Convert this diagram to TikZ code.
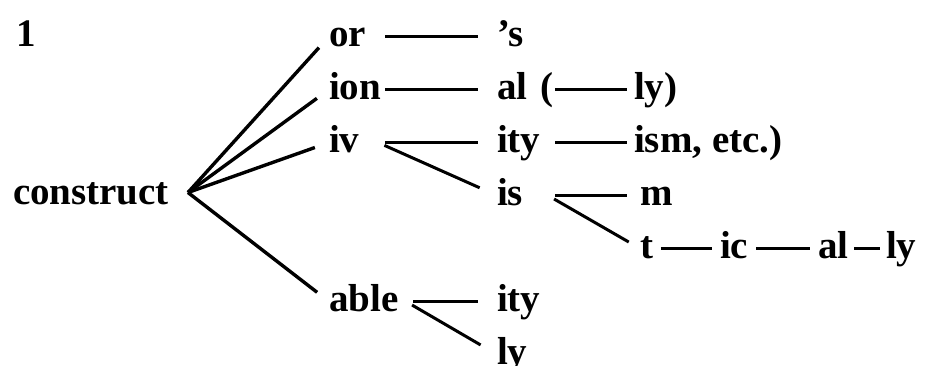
\documentclass[tikz,border=0pt]{standalone}
\usepackage{fontspec}
\setmainfont{Liberation Serif}
\tikzset{
  word/.style={anchor=base west, inner sep=0pt, outer sep=0pt, text height=13.5pt, text depth=4pt},
  suffix/.style={word, text width=#1, align=left},
  link/.style={line width=1.5pt, shorten <=3.5pt, shorten >=3.5pt},
  fan/.style={line width=1.7pt, shorten >=7.5pt},
}
\begin{document}
\begin{tikzpicture}[x=0.5pt, y=-0.5pt, font=\fontsize{19.5}{23}\selectfont\bfseries]
			\useasboundingbox (0,0) rectangle (952,365);
			\node[word] (one) at (17,46) {1};
			\node[word] (construct) at (13,204) {construct};
			\coordinate (tip) at ([xshift=9.5pt,yshift=1pt]construct.east);
			\node[suffix=24.5pt] (or) at (329,46) {or};
			\node[suffix=24.5pt] (ion) at (329,99) {ion};
			\node[suffix=24.5pt] (iv) at (329,152) {iv};
			\node[suffix=38.5pt] (able) at (329,311) {able};
			\node[suffix=25.5pt] (s) at (497,46) {’s};
			\node[suffix=25.5pt] (al) at (497,99) {al~(};
			\node[suffix=25.5pt] (ity) at (497,152) {ity};
			\node[suffix=25.5pt] (is) at (497,205) {is};
			\node[suffix=25.5pt] (ablity) at (497,311) {ity};
			\node[word] (ablly) at (497,364) {ly};
			\node[word] (ly) at (634,99) {ly)};
			\node[word] (ism) at (634,152) {ism, etc.)};
			\node[word] (m) at (640,205) {m};
			\node[word] (t) at (640,258) {t};
			\node[word] (ic) at (720,258) {ic};
			\node[word] (tal) at (818,258) {al};
			\node[word] (tly) at (886,258) {ly};
			\draw[fan] (tip) -- (or.west);
			\draw[fan] (tip) -- (ion.west);
			\draw[fan] (tip) -- (iv.west);
			\draw[fan] (tip) -- (able.west);
			\draw[link, shorten >=9.5pt] (or.east) -- (s.west);
			\draw[link, shorten >=9.5pt] (ion.east) -- (al.west);
			\draw[link, shorten >=9.5pt] (iv.east) -- (ity.west);
			\draw[link, shorten >=9.5pt] (iv.east) -- (is.west);
			\draw[link, shorten >=9.5pt] (able.east) -- (ablity.west);
			\draw[link, shorten >=9.5pt] (able.east) -- (ablly.west);
			\draw[link] (al.east) -- (ly.west);
			\draw[link] (ity.east) -- (ism.west);
			\draw[link, shorten >=6.5pt] (is.east) -- (m.west);
			\draw[link, shorten >=6.5pt] (is.east) -- (t.west);
			\draw[link, shorten <=4pt, shorten >=4pt] (t.east) -- (ic.west);
			\draw[link, shorten <=4pt, shorten >=4pt] (ic.east) -- (tal.west);
			\draw[link, shorten <=3pt, shorten >=3pt] (tal.east) -- (tly.west);
		\end{tikzpicture}
\end{document}
